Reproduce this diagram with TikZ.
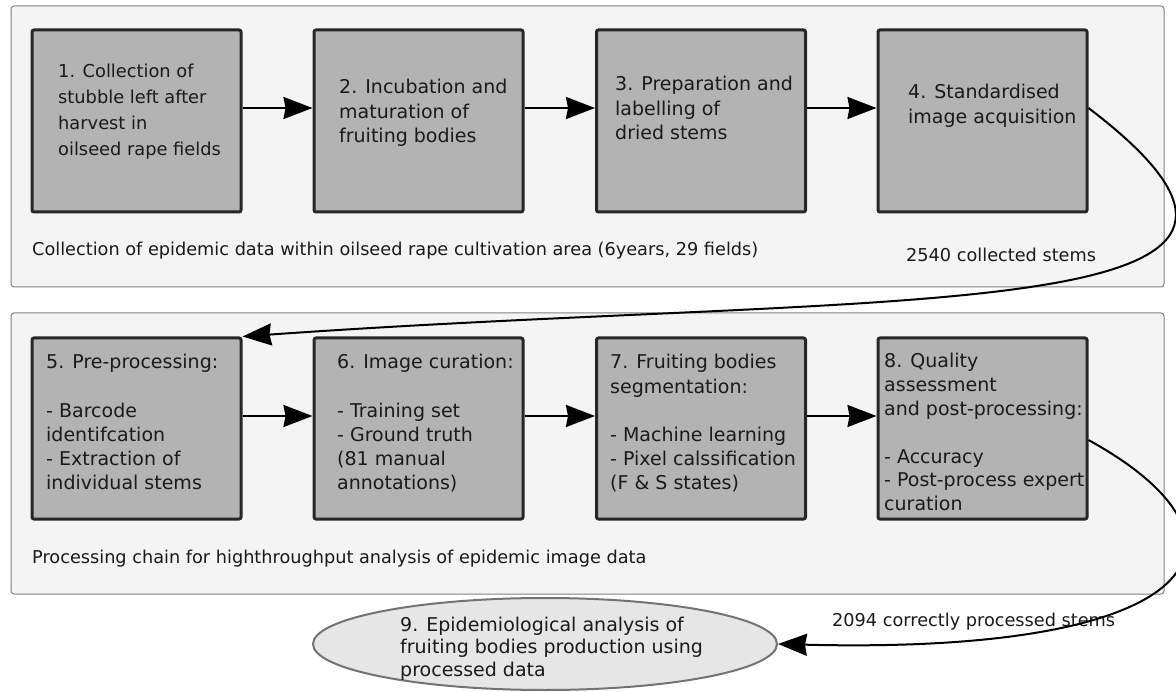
\documentclass[tikz,border=0pt]{standalone}
\usepackage{fontspec}
\setmainfont{DejaVu Sans}
\usetikzlibrary{arrows.meta,shapes.geometric}
\definecolor{panelfill}{HTML}{F4F4F4}
\definecolor{paneldraw}{HTML}{808080}
\definecolor{boxfill}{HTML}{B3B3B3}
\definecolor{boxdraw}{HTML}{262626}
\definecolor{ellfill}{HTML}{E6E6E6}
\definecolor{elldraw}{HTML}{737373}
\definecolor{txt}{HTML}{1A1A1A}
\newcommand\boxtext[1]{\parbox[t]{320pt}{\raggedright #1}}
\begin{document}
\begin{tikzpicture}[x=1pt,y=-1pt,
  panel/.style={draw=paneldraw, line width=1pt, fill=panelfill, rounded corners=3pt,
    minimum width=1153pt, minimum height=281pt, inner sep=0pt},
  stepbox/.style={draw=boxdraw, line width=3pt, fill=boxfill, rounded corners=2pt,
    minimum width=209pt, minimum height=182pt, inner sep=0pt},
  ellbox/.style={ellipse, draw=elldraw, line width=2pt, fill=ellfill,
    minimum width=464pt, minimum height=92pt, inner sep=0pt},
  txtS/.style={anchor=base west, inner sep=0pt, text=txt, font=\fontsize{17.8}{26}\selectfont},
  txtB/.style={anchor=base west, inner sep=0pt, text=txt, font=\fontsize{19}{24.2}\selectfont},
  txtE/.style={anchor=base west, inner sep=0pt, text=txt, font=\fontsize{19}{22.7}\selectfont},
  capt/.style={anchor=base west, inner sep=0pt, text=txt, font=\fontsize{17.7}{21}\selectfont},
  arr/.style={draw=black, line width=2pt, -{Stealth[length=29pt,width=22pt,inset=2pt]}}
]
\useasboundingbox (0,0) rectangle (1176,692);
% panels
\node[panel] (p1) at (587.5,146.5) {};
\node[panel] (p2) at (587.5,453.5) {};
% boxes
\node[stepbox] (b1) at (136.5,121) {};
\node[stepbox] (b2) at (418.5,121) {};
\node[stepbox] (b3) at (701,121) {};
\node[stepbox] (b4) at (982.5,121) {};
\node[stepbox, minimum height=181pt] (b5) at (136.5,428.5) {};
\node[stepbox, minimum height=181pt] (b6) at (418.5,428.5) {};
\node[stepbox, minimum height=181pt] (b7) at (701,428.5) {};
\node[stepbox, minimum height=181pt] (b8) at (982.5,428.5) {};
% ellipse
\node[ellbox] (e9) at (545,644) {};
% texts
\node[txtS] (t1) at (58,78) {\boxtext{1. Collection of\\stubble left after\\harvest in\\oilseed rape fields}};
\node[txtB] (t2) at (339,94) {\boxtext{2. Incubation and\\maturation of\\fruiting bodies}};
\node[txtB] (t3) at (615,91) {\boxtext{3. Preparation and\\labelling of\\dried stems}};
\node[txtB] (t4) at (908,99) {\boxtext{4. Standardised\\image acquisition}};
\node[txtB] (t5) at (46,369) {\boxtext{5. Pre-processing:\\\mbox{}\\- Barcode\\identifcation\\- Extraction of\\individual stems}};
\node[txtB] (t6) at (337,369) {\boxtext{6. Image curation:\\\mbox{}\\- Training set\\- Ground truth\\(81 manual\\annotations)}};
\node[txtB] (t7) at (610,369) {\boxtext{7. Fruiting bodies\\segmentation:\\\mbox{}\\- Machine learning\\- Pixel calssification\\(F \& S states)}};
\node[txtB, font=\fontsize{19}{23.8}\selectfont] (t8) at (884,368) {\boxtext{8. Quality\\assessment\\and post-processing:\\\mbox{}\\- Accuracy\\- Post-process expert\\curation}};
\node[txtE] (t9) at (400,631) {\boxtext{9. Epidemiological analysis of\\fruiting bodies production using\\processed data}};
\node[capt] (c1) at (32,256) {Collection of epidemic data within oilseed rape cultivation area (6years, 29 fields)};
\node[capt] (c2) at (32,563) {Processing chain for highthroughput analysis of epidemic image data};
\node[capt] (n1) at (906,262) {2540 collected stems};
\node[capt] (n2) at (832,626) {2094 correctly processed stems};
% connectors
\draw[arr] ([yshift=13pt]b1.east) -- ([yshift=13pt]b2.west);
\draw[arr] ([yshift=13pt]b2.east) -- ([yshift=13pt]b3.west);
\draw[arr] ([yshift=13pt]b3.east) -- ([yshift=13pt]b4.west);
\draw[arr] ([yshift=12.5pt]b5.east) -- ([yshift=12.5pt]b6.west);
\draw[arr] ([yshift=12.5pt]b6.east) -- ([yshift=12.5pt]b7.west);
\draw[arr] ([yshift=12.5pt]b7.east) -- ([yshift=12.5pt]b8.west);
\draw[arr] ([yshift=13pt]b4.east) .. controls (1380,330) and (900,290) .. (b5.north east);
\draw[arr] ([yshift=-11.5pt]b8.east) .. controls (1270,540) and (1210,655) .. (e9.east);
\end{tikzpicture}
\end{document}
